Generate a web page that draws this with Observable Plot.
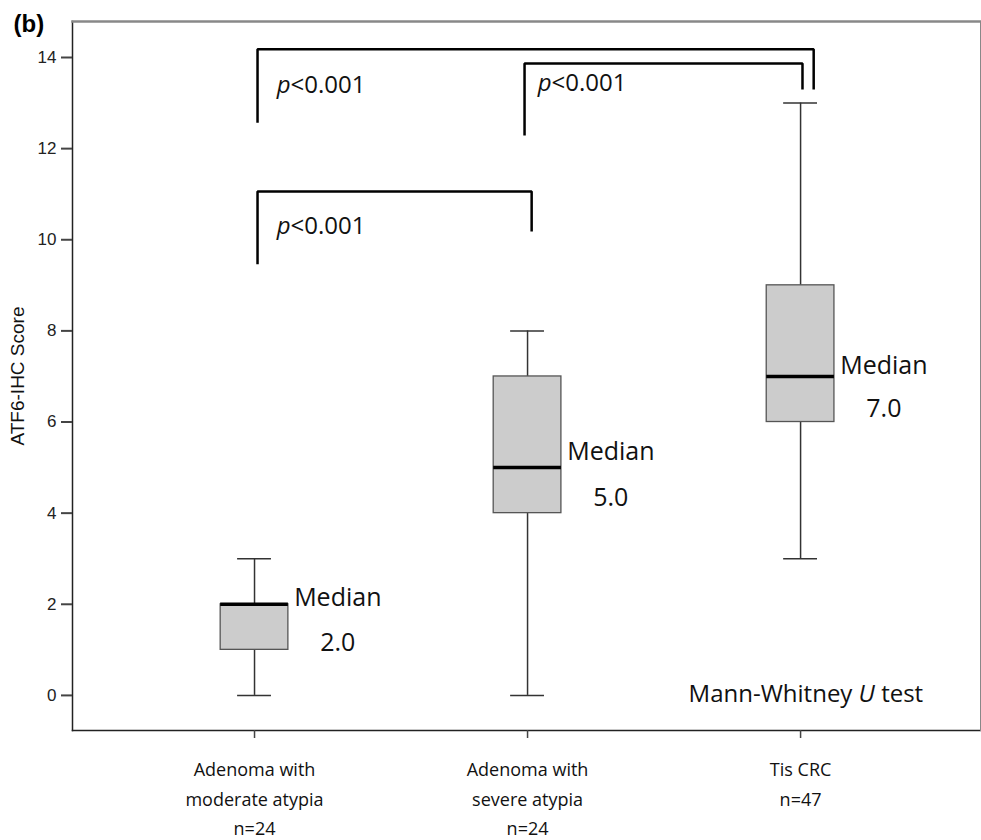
<!DOCTYPE html>
<html>
<head>
<meta charset="utf-8">
<script src="https://cdn.jsdelivr.net/npm/d3@7"></script>
<script src="https://cdn.jsdelivr.net/npm/@observablehq/plot@0.6"></script>
<style>
  html, body { margin: 0; padding: 0; background: #fff; }
  #chart svg { display: block; }
</style>
</head>
<body>
<div id="chart"></div>
<script>
// ---- Data ----
const categories = [
  "Adenoma with\nmoderate atypia\nn=24",
  "Adenoma with\nsevere atypia\nn=24",
  "Tis CRC\nn=47"
];
const minVals = [0, 0, 3];
const q1Vals = [1, 4, 6];
const medians = [2, 5, 7];
const q3Vals = [2, 7, 9];
const maxVals = [3, 8, 13];
const medianLabels = ["2.0", "5.0", "7.0"];
const yTicks = [0, 2, 4, 6, 8, 10, 12, 14];
const comparisons = [[1, 3], [2, 3], [1, 2]]; // category positions compared
const pLabels = ["p<0.001", "p<0.001", "p<0.001"];
const testLabel = "Mann-Whitney U test";
const yLabel = "ATF6-IHC Score";
const panelLabel = "(b)";

// ---- Layout / annotation placement (not data) ----
const BOX = 0.124, CAP = 0.062;
// bracket geometry: [xLeft, xRight, yTop, yLeftEnd, yRightEnd]
const bracketGeom = [
  [1.011, 3.048, 14.18, 12.57, 13.30],
  [1.989, 3.007, 13.87, 12.29, 13.30],
  [1.011, 2.015, 11.06, 9.46, 10.18]
];
const pTextPos = [[1.081, 13.39], [2.037, 13.44], [1.081, 10.29]];
const medianTextY = [[2.13, 1.16], [5.35, 4.34], [7.24, 6.28]];
const MED_DX = 0.305;

const groups = categories.map((c, i) => ({
  pos: i + 1, label: c, min: minVals[i], q1: q1Vals[i], median: medians[i],
  q3: q3Vals[i], max: maxVals[i], medLabel: medianLabels[i]
}));

const bracketPts = [];
comparisons.forEach((cmp, i) => {
  const [xl, xr, yt, yl, yr] = bracketGeom[i];
  bracketPts.push({id: i, x: xl, y: yl}, {id: i, x: xl, y: yt}, {id: i, x: xr, y: yt}, {id: i, x: xr, y: yr});
});
const pTexts = pLabels.map((t, i) => ({text: t, x: pTextPos[i][0], y: pTextPos[i][1]}));

const sans = "'Open Sans', sans-serif";
const arial = "'Liberation Sans', Arial, sans-serif";

const plot = Plot.plot({
  width: 981,
  height: 840,
  marginLeft: 72,
  marginRight: 1,
  marginTop: 21,
  marginBottom: 110,
  style: {fontFamily: arial, background: "#fff", color: "#222"},
  x: {domain: [0.3333, 3.659]},
  y: {domain: [-0.77, 14.79]},
  marks: [
    Plot.frame({anchor: "left", stroke: "#222", strokeWidth: 1.5}),
    Plot.frame({anchor: "bottom", stroke: "#222", strokeWidth: 1.5}),
    Plot.frame({anchor: "top", stroke: "#888", strokeWidth: 2.5}),
    Plot.frame({anchor: "right", stroke: "#888", strokeWidth: 1}),
    Plot.axisY({ticks: yTicks, tickSize: 11, tickPadding: 5, fontSize: 17, label: null, stroke: "#444", strokeWidth: 2, fill: "#222"}),
    Plot.axisX({ticks: [1, 2, 3], tickSize: 8, tickFormat: () => "", label: null, stroke: "#444", strokeWidth: 1.5}),
    // whiskers
    Plot.ruleX(groups, {x: "pos", y1: "q3", y2: "max", stroke: "#333", strokeWidth: 1.5}),
    Plot.ruleX(groups, {x: "pos", y1: "min", y2: "q1", stroke: "#333", strokeWidth: 1.5}),
    Plot.ruleY(groups, {y: "max", x1: d => d.pos - CAP, x2: d => d.pos + CAP, stroke: "#333", strokeWidth: 1.5}),
    Plot.ruleY(groups, {y: "min", x1: d => d.pos - CAP, x2: d => d.pos + CAP, stroke: "#333", strokeWidth: 1.5}),
    // boxes
    Plot.rect(groups, {x1: d => d.pos - BOX, x2: d => d.pos + BOX, y1: "q1", y2: "q3", fill: "#cccccc", stroke: "#555", strokeWidth: 1.3}),
    Plot.ruleY(groups, {y: "median", x1: d => d.pos - BOX, x2: d => d.pos + BOX, stroke: "#000", strokeWidth: 3.5}),
    // median labels
    Plot.text(groups, {x: d => d.pos + MED_DX, y: (d, i) => medianTextY[i][0], text: () => "Median", fontSize: 25, fontFamily: sans, fill: "#111"}),
    Plot.text(groups, {x: d => d.pos + MED_DX, y: (d, i) => medianTextY[i][1], text: "medLabel", fontSize: 25, fontFamily: sans, fill: "#111"}),
    // brackets
    Plot.line(bracketPts, {x: "x", y: "y", z: "id", stroke: "#000", strokeWidth: 2.5, strokeLinejoin: "miter", strokeLinecap: "butt", curve: "linear"}),
    Plot.text(pTexts, {x: "x", y: "y", text: "text", textAnchor: "start", fontSize: 24, fontFamily: sans, fill: "#111"}),
    // test label
    Plot.text([testLabel], {x: 3.449, y: 0.02, text: d => d, textAnchor: "end", fontSize: 24, fontFamily: sans, fill: "#111"}),
    // category labels
    Plot.text(groups, {x: "pos", text: "label", frameAnchor: "bottom", dy: 24, lineAnchor: "top", lineHeight: 1.66, fontSize: 18, fontFamily: sans, fill: "#111"}),
    // y label
    Plot.text([yLabel], {text: d => d, frameAnchor: "left", rotate: -90, dx: -55, textAnchor: "middle", lineAnchor: "middle", fontSize: 19, fontFamily: arial, fill: "#111"}),
    // panel label
    Plot.text([panelLabel], {text: d => d, frameAnchor: "top-left", dx: -59, dy: 3, textAnchor: "start", lineAnchor: "middle", fontSize: 24, fontWeight: "bold", fontFamily: arial, fill: "#000"})
  ]
});

// italic p and U
d3.select(plot).selectAll("text").each(function () {
  const el = d3.select(this);
  const t = this.textContent;
  if (this.querySelector("tspan")) return;
  if (t === "p<0.001") {
    el.text(null);
    el.append("tspan").attr("font-style", "italic").text("p");
    el.append("tspan").text("<0.001");
  } else if (t === testLabel) {
    el.text(null);
    el.append("tspan").text("Mann-Whitney ");
    el.append("tspan").attr("font-style", "italic").text("U");
    el.append("tspan").text(" test");
  }
});

document.getElementById("chart").appendChild(plot);
</script>
</body>
</html>
